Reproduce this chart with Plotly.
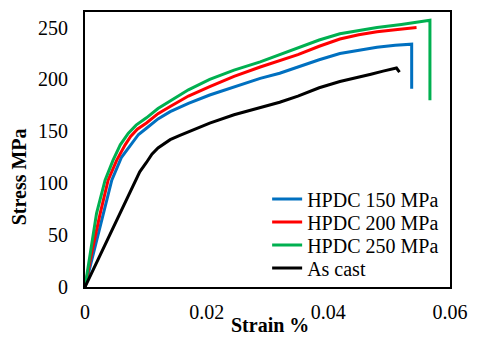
import plotly.graph_objects as go

# Stress-strain curves
strain_150 = [0, 0.0015, 0.003, 0.0044, 0.006, 0.007, 0.0077, 0.0088, 0.0101, 0.012, 0.014, 0.017, 0.0205,
              0.0245, 0.0288, 0.032, 0.035, 0.0385, 0.0419, 0.045, 0.048, 0.051, 0.0537, 0.0537]
stress_150 = [0, 36, 71, 103, 125, 133, 139, 147, 153, 162, 169, 177, 185,
              193, 201, 206, 212, 219, 225, 228, 231, 233, 234, 191]

strain_200 = [0, 0.0012, 0.0025, 0.0038, 0.0052, 0.0066, 0.0075, 0.0086, 0.0101, 0.012, 0.014, 0.017, 0.0205,
              0.0245, 0.0288, 0.032, 0.035, 0.0385, 0.0419, 0.045, 0.048, 0.051, 0.0545]
stress_200 = [0, 36, 71, 103, 122, 137, 145, 152, 158, 167, 174, 184, 193,
              203, 212, 218, 224, 232, 239, 243, 246, 248, 250]

strain_250 = [0, 0.001, 0.0019, 0.0033, 0.0046, 0.0058, 0.0071, 0.0084, 0.0101, 0.012, 0.014, 0.017, 0.0205,
              0.0245, 0.0288, 0.032, 0.035, 0.0385, 0.0419, 0.045, 0.048, 0.052, 0.0567, 0.0567]
stress_250 = [0, 37, 71, 103, 122, 137, 148, 156, 163, 172, 179, 190, 200,
              209, 217, 224, 230, 238, 244, 247, 250, 253, 257, 180]

strain_cast = [0, 0.003, 0.006, 0.009, 0.0101, 0.011, 0.012, 0.014, 0.0156, 0.018, 0.0205, 0.0245,
               0.0288, 0.032, 0.035, 0.0385, 0.0419, 0.045, 0.047, 0.049, 0.0512, 0.0517]
stress_cast = [0, 37, 73, 111, 120, 128, 134, 142, 146, 152, 158, 166,
               173, 178, 184, 192, 198, 202, 205, 208, 211, 207]

x_ticks = [0, 0.02, 0.04, 0.06]
x_labels = ['0', '0.02', '0.04', '0.06']
y_ticks = [0, 50, 100, 150, 200, 250]

series = [
    ('HPDC 150 MPa', strain_150, stress_150, '#0070C0'),
    ('HPDC 200 MPa', strain_200, stress_200, '#FF0000'),
    ('HPDC 250 MPa', strain_250, stress_250, '#00B050'),
    ('As cast', strain_cast, stress_cast, '#000000'),
]

serif = 'Liberation Serif, Times New Roman, serif'
txt = dict(family=serif, size=20, color='black')

# one small legend per series so the rows sit as tightly as in the original
legend_ids = ['legend', 'legend2', 'legend3', 'legend4']
legend_rows = [0.32, 0.236, 0.153, 0.069]

fig = go.Figure()
for (name, xs, ys, color), lid in zip(series, legend_ids):
    fig.add_trace(go.Scatter(
        x=xs, y=ys, mode='lines', name=name, legend=lid,
        line=dict(color=color, width=3)
    ))

legends = {}
for lid, row in zip(legend_ids, legend_rows):
    legends[lid] = dict(
        x=0.499, y=row, xanchor='left', yanchor='middle',
        bgcolor='rgba(0,0,0,0)', borderwidth=0, font=txt,
    )

fig.update_layout(
    width=472, height=332,
    margin=dict(l=77, r=30, t=4, b=53),
    paper_bgcolor='white', plot_bgcolor='white',
    font=txt,
    showlegend=True,
    **legends,
    xaxis=dict(
        range=[0, 0.06], tickvals=x_ticks, ticktext=x_labels,
        showgrid=False, zeroline=False, showline=True, mirror=True,
        linecolor='black', linewidth=2, ticks='', ticklabelstandoff=6,
        tickfont=txt, automargin=False,
    ),
    yaxis=dict(
        range=[0, 265], tickvals=y_ticks,
        showgrid=False, zeroline=False, showline=True, mirror=True,
        linecolor='black', linewidth=2, ticks='', ticklabelstandoff=11,
        tickfont=txt, automargin=False,
    ),
    annotations=[
        dict(text='<b>Strain %</b>', x=0.507, y=-0.138, xref='paper', yref='paper',
             showarrow=False, xanchor='center', yanchor='middle', font=txt),
        dict(text='<b>Stress MPa</b>', x=-0.18, y=0.4, xref='paper', yref='paper',
             showarrow=False, xanchor='center', yanchor='middle', textangle=-90, font=txt),
    ],
)

fig.write_html('out.html')
